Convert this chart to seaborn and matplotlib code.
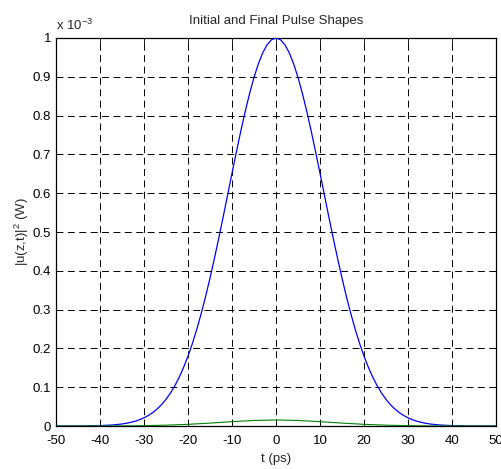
import numpy as np
import pandas as pd
import matplotlib
matplotlib.use("Agg")
import matplotlib.pyplot as plt
import seaborn as sns

# Time grid (ps) for the input pulse, 1 ps spacing
t_in = list(range(-50, 51))
# Input pulse power |u(0,t)|^2, in units of 1e-3 W
p_in = [
    0.0000, 0.0000, 0.0000, 0.0000, 0.0001, 0.0001, 0.0002, 0.0003, 0.0005, 0.0007,
    0.0011, 0.0015, 0.0021, 0.0028, 0.0039, 0.0052, 0.0071, 0.0094, 0.0124, 0.0163,
    0.0211, 0.0272, 0.0347, 0.0439, 0.0551, 0.0686, 0.0847, 0.1036, 0.1256, 0.1510,
    0.1800, 0.2128, 0.2494, 0.2898, 0.3338, 0.3812, 0.4317, 0.4846, 0.5394, 0.5954,
    0.6514, 0.7067, 0.7601, 0.8106, 0.8570, 0.8984, 0.9337, 0.9622, 0.9830, 0.9957,
    1.0000,
    0.9957, 0.9830, 0.9622, 0.9337, 0.8984, 0.8570, 0.8106, 0.7601, 0.7067, 0.6514,
    0.5954, 0.5394, 0.4846, 0.4317, 0.3812, 0.3338, 0.2898, 0.2494, 0.2128, 0.1800,
    0.1510, 0.1256, 0.1036, 0.0847, 0.0686, 0.0551, 0.0439, 0.0347, 0.0272, 0.0211,
    0.0163, 0.0124, 0.0094, 0.0071, 0.0052, 0.0039, 0.0028, 0.0021, 0.0015, 0.0011,
    0.0007, 0.0005, 0.0003, 0.0002, 0.0001, 0.0001, 0.0000, 0.0000, 0.0000, 0.0000,
]

# Output pulse power after propagation, 5 ps spacing, units of 1e-3 W
t_out = list(range(-50, 51, 5))
p_out = [
    0.0000, 0.0000, 0.0001, 0.0003, 0.0009, 0.0021, 0.0043, 0.0075, 0.0112, 0.0143,
    0.0155,
    0.0143, 0.0112, 0.0075, 0.0043, 0.0021, 0.0009, 0.0003, 0.0001, 0.0000, 0.0000,
]

x_ticks = [-50, -40, -30, -20, -10, 0, 10, 20, 30, 40, 50]
y_ticks = [0, 0.1, 0.2, 0.3, 0.4, 0.5, 0.6, 0.7, 0.8, 0.9, 1]
y_tick_labels = ["0", "0.1", "0.2", "0.3", "0.4", "0.5", "0.6", "0.7", "0.8", "0.9", "1"]

sns.set_style("white")
plt.rcParams["font.family"] = ["Liberation Sans", "DejaVu Sans"]
plt.rcParams["font.size"] = 9.5
plt.rcParams["mathtext.fontset"] = "custom"
plt.rcParams["mathtext.rm"] = "Liberation Sans"
plt.rcParams["mathtext.it"] = "Liberation Sans"
plt.rcParams["lines.scale_dashes"] = False

FS = 9.5

df_in = pd.DataFrame({"t": t_in, "p": p_in})
df_out = pd.DataFrame({"t": t_out, "p": p_out})

fig = plt.figure(figsize=(5.01, 4.69), dpi=100, facecolor="white")
ax = fig.add_axes([56 / 501, (469 - 426) / 469, 440 / 501, 388 / 469])

sns.lineplot(data=df_in, x="t", y="p", ax=ax, color="#0000ff", linewidth=0.9, zorder=3)
sns.lineplot(data=df_out, x="t", y="p", ax=ax, color="#008000", linewidth=0.8,
             zorder=4)

ax.set_xlim(-50, 50)
ax.set_ylim(0, 1)
ax.set_xticks(x_ticks)
ax.set_xticklabels([str(v) for v in x_ticks])
ax.set_yticks(y_ticks)
ax.set_yticklabels(y_tick_labels)

ax.grid(True, color="black", linestyle=(0, (5, 3.2)), linewidth=0.7)
ax.tick_params(direction="in", length=4, width=0.6, top=True, right=True,
               labelsize=FS, colors="black")
ax.tick_params(axis="x", pad=6.5)
ax.tick_params(axis="y", pad=3.5)
for s in ax.spines.values():
    s.set_visible(True)
    s.set_color("black")
    s.set_linewidth(0.9)

ax.set_xlabel("t (ps)", fontsize=FS, labelpad=4)
ax.set_ylabel(r"|u(z,t)|$^2$ (W)", fontsize=FS, labelpad=1)
ax.set_title("Initial and Final Pulse Shapes", fontsize=FS, pad=10)
ax.text(0.0, 1.012, r"x 10$^{-3}$", transform=ax.transAxes, fontsize=FS,
        ha="left", va="bottom")

fig.savefig("out.png", dpi=100, facecolor="white")
